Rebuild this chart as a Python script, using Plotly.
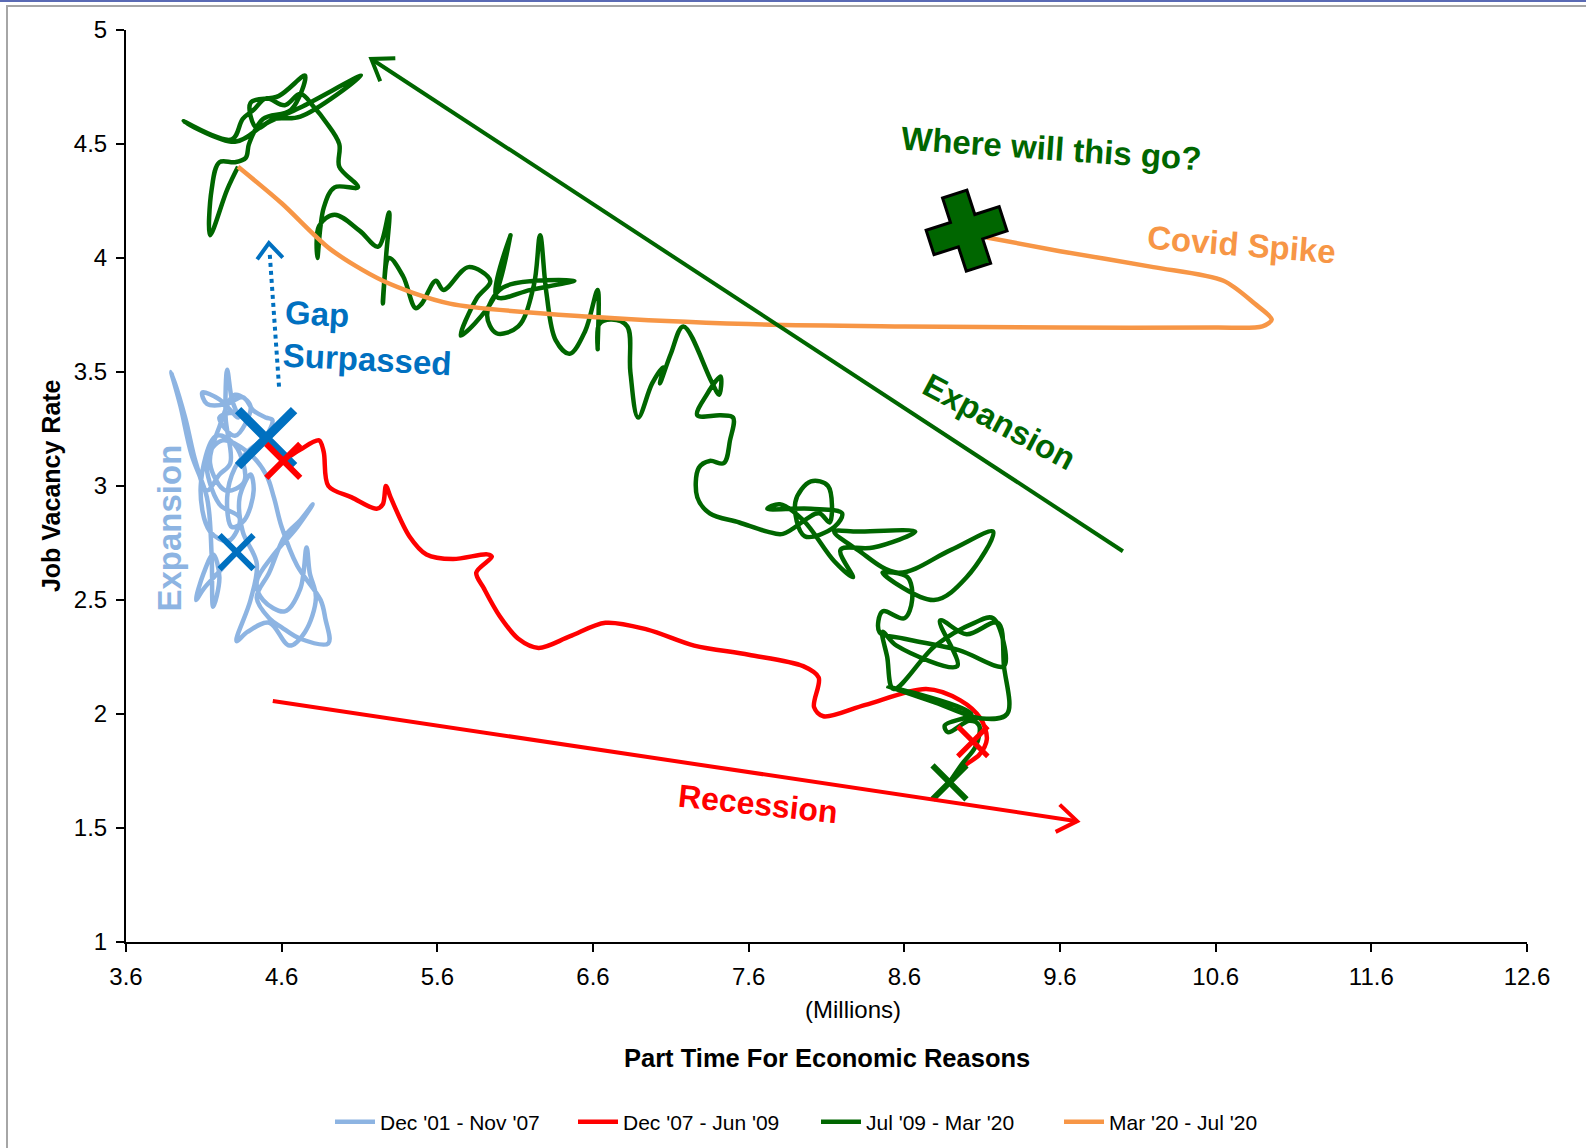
import math
import plotly.graph_objects as go

# ---------------- data ----------------
SERIES_NAMES = ["Dec '01 - Nov '07", "Dec '07 - Jun '09", "Jul '09 - Mar '20", "Mar '20 - Jul '20"]

BLUE_X = [4.31, 4.22, 4.10, 4.05, 4.10, 4.16, 4.20, 4.16, 4.15, 4.12, 4.02, 3.95, 3.89, 3.98, 4.05, 4.12,
          4.20, 4.27, 4.24, 4.25, 4.28, 4.32, 4.20, 4.09, 4.12, 4.25, 4.35, 4.42, 4.50, 4.54, 4.50, 4.38,
          4.30, 4.25, 4.28, 4.36, 4.42, 4.40, 4.33, 4.35, 4.44, 4.40, 4.31, 4.38, 4.52, 4.65, 4.75, 4.82,
          4.78, 4.76, 4.72, 4.62, 4.48, 4.44, 4.55, 4.70, 4.80, 4.72, 4.62, 4.52, 4.44, 4.52, 4.60, 4.72,
          4.90, 4.88, 4.85, 4.70, 4.60, 4.55, 4.50, 4.38, 4.22, 4.12, 4.20, 4.33, 4.26, 4.14, 4.08, 4.18,
          4.30, 4.36, 4.24, 4.14, 4.20, 4.30, 4.40, 4.30, 4.20, 4.30, 4.42, 4.50]
BLUE_Y = [2.71, 2.64, 2.55, 2.50, 2.62, 2.70, 2.60, 2.47, 2.70, 2.95, 3.14, 3.35, 3.50, 3.30, 3.10, 2.98,
          3.05, 3.10, 3.30, 3.51, 3.38, 3.30, 3.38, 3.41, 3.36, 3.36, 3.39, 3.33, 3.30, 3.29, 3.22, 3.15,
          3.08, 2.95, 2.82, 2.85, 2.98, 3.05, 2.95, 2.80, 2.66, 2.50, 2.32, 2.36, 2.40, 2.30, 2.36, 2.51,
          2.62, 2.73, 2.55, 2.45, 2.50, 2.58, 2.70, 2.82, 2.92, 2.85, 2.78, 2.62, 2.51, 2.42, 2.38, 2.33,
          2.31, 2.42, 2.50, 2.65, 2.82, 2.95, 3.05, 3.15, 3.20, 3.12, 2.92, 2.86, 2.76, 2.80, 3.00, 3.22,
          3.18, 3.02, 2.98, 3.10, 3.26, 3.40, 3.35, 3.22, 3.30, 3.32, 3.26, 3.21]

RED_X = [4.61, 4.72, 4.84, 4.87, 4.90, 5.05, 5.21, 5.25, 5.27, 5.30, 5.42, 5.53, 5.70, 5.92, 5.95, 5.85,
         5.90, 6.00, 6.12, 6.25, 6.45, 6.68, 6.95, 7.25, 7.60, 7.95, 8.05, 8.02, 8.08, 8.35, 8.74, 8.96,
         9.09, 9.13, 9.08, 9.00, 8.92]
RED_Y = [3.11, 3.16, 3.20, 3.15, 3.00, 2.95, 2.90, 2.92, 3.00, 2.95, 2.78, 2.70, 2.68, 2.70, 2.69, 2.62,
         2.55, 2.43, 2.33, 2.29, 2.34, 2.40, 2.37, 2.30, 2.26, 2.21, 2.16, 2.03, 1.99, 2.04, 2.11, 2.06,
         1.98, 1.89, 1.82, 1.78, 1.72]

GREEN_X = [8.89, 8.97, 9.06, 9.08, 9.02, 8.88, 8.86, 9.03, 8.50, 8.80, 9.10, 9.26, 9.24, 9.20, 9.00, 8.83,
           8.94, 8.55, 8.46, 8.49, 8.53, 8.80, 9.05, 9.17, 9.24, 8.95, 8.60, 8.44, 8.46, 8.60, 8.65, 8.62,
           8.46, 8.79, 9.00, 9.17, 8.90, 8.56, 8.30, 8.15, 8.30, 8.67, 8.40, 8.19, 8.27, 8.15, 7.95, 7.80,
           7.72, 8.00, 8.20, 8.15, 7.96, 7.90, 8.00, 8.11, 8.12, 8.05, 7.82, 7.72, 7.54, 7.35, 7.27, 7.28,
           7.35, 7.44, 7.48, 7.50, 7.42, 7.27, 7.33, 7.42, 7.41, 7.36, 7.18, 7.10, 7.03, 7.05, 6.98, 6.89,
           6.84, 6.82, 6.72, 6.64, 6.63, 6.63, 6.55, 6.45, 6.36, 6.30, 6.26, 6.22, 6.12, 5.98, 5.92, 6.02,
           6.48, 6.20, 5.98, 6.07, 5.96, 5.75, 5.85, 5.94, 5.80, 5.64, 5.59, 5.50, 5.46, 5.38, 5.29, 5.25,
           5.27, 5.29, 5.22, 5.10, 4.94, 4.84, 4.83, 4.87, 4.94, 5.09, 4.97, 4.97, 4.88, 4.81, 4.72, 4.62,
           4.50, 4.42, 4.35, 4.28, 3.97, 4.30, 4.50, 4.72, 5.11, 4.72, 4.55, 4.44, 4.40, 4.58, 4.75, 4.66,
           4.48, 4.39, 4.37, 4.30, 4.20, 4.15, 4.14, 4.25, 4.32]
GREEN_Y = [1.70, 1.78, 1.86, 1.95, 1.97, 1.92, 1.95, 2.00, 2.12, 2.05, 1.98, 2.00, 2.21, 2.40, 2.35, 2.41,
           2.21, 2.30, 2.36, 2.25, 2.11, 2.30, 2.40, 2.42, 2.21, 2.28, 2.33, 2.36, 2.45, 2.42, 2.50, 2.60,
           2.62, 2.50, 2.60, 2.80, 2.72, 2.62, 2.72, 2.80, 2.80, 2.80, 2.73, 2.72, 2.60, 2.67, 2.85, 2.92,
           2.90, 2.90, 2.88, 2.82, 2.78, 2.93, 3.02, 3.00, 2.84, 2.88, 2.79, 2.80, 2.84, 2.88, 2.95, 3.08,
           3.11, 3.10, 3.20, 3.30, 3.31, 3.31, 3.40, 3.48, 3.40, 3.46, 3.70, 3.58, 3.45, 3.52, 3.45, 3.30,
           3.50, 3.70, 3.73, 3.71, 3.60, 3.86, 3.68, 3.58, 3.64, 3.85, 4.10, 3.88, 3.70, 3.67, 3.75, 3.87,
           3.90, 3.86, 3.83, 4.10, 3.82, 3.66, 3.82, 3.90, 3.96, 3.86, 3.90, 3.80, 3.78, 3.92, 4.00, 3.80,
           4.00, 4.20, 4.05, 4.12, 4.19, 4.14, 4.00, 4.22, 4.31, 4.31, 4.40, 4.50, 4.60, 4.66, 4.72, 4.67,
           4.70, 4.65, 4.61, 4.52, 4.60, 4.51, 4.59, 4.66, 4.80, 4.62, 4.61, 4.57, 4.68, 4.71, 4.80, 4.65,
           4.61, 4.50, 4.44, 4.42, 4.42, 4.30, 4.10, 4.30, 4.40]

ORANGE_X = [4.32, 4.60, 4.91, 5.25, 5.68, 6.64, 7.60, 8.60, 9.60, 10.60, 10.90, 10.96, 10.85, 10.65, 10.20, 9.60, 9.13]
ORANGE_Y = [4.40, 4.24, 4.04, 3.90, 3.80, 3.74, 3.71, 3.70, 3.695, 3.695, 3.70, 3.73, 3.80, 3.90, 3.96, 4.03, 4.09]

# period markers
START_BLUE = (4.31, 2.71)
END_BLUE = (4.50, 3.21)
START_RED = (4.61, 3.11)
END_RED = (9.04, 1.88)
START_GREEN = (8.89, 1.70)
END_ORANGE = (9.00, 4.12)

X_TICKS = [3.6, 4.6, 5.6, 6.6, 7.6, 8.6, 9.6, 10.6, 11.6, 12.6]
Y_TICKS = [1, 1.5, 2, 2.5, 3, 3.5, 4, 4.5, 5]

# ---------------- layout constants ----------------
W, H = 1586, 1148
ML, MR, MT, MB = 126, 59, 30, 206
PW, PH = W - ML - MR, H - MT - MB
X0, X1, Y0, Y1 = 3.6, 12.6, 1.0, 5.0
SX, SY = PW / (X1 - X0), PH / (Y1 - Y0)

C_LBLUE = "#8DB4E2"
C_BLUE = "#0070C0"
C_RED = "#FF0000"
C_GREEN = "#006600"
C_ORANGE = "#F79646"
FONT = "Arial, Liberation Sans, sans-serif"


def pxx(xp):
    return (xp - ML) / PW


def pxy(yp):
    return (H - MB - yp) / PH


def chevron(xh, yh, xt, yt, L=24, ang=35):
    dx, dy = (xt - xh) * SX, (yt - yh) * SY
    n = math.hypot(dx, dy)
    ux, uy = dx / n, dy / n
    pts = []
    for a in (ang, -ang):
        r = math.radians(a)
        vx = ux * math.cos(r) - uy * math.sin(r)
        vy = ux * math.sin(r) + uy * math.cos(r)
        pts.append((xh + vx * L / SX, yh + vy * L / SY))
    return f"M {pts[0][0]},{pts[0][1]} L {xh},{yh} L {pts[1][0]},{pts[1][1]}"


fig = go.Figure()

for xs, ys, col, name, sm in [(BLUE_X, BLUE_Y, C_LBLUE, SERIES_NAMES[0], 1.0),
                               (RED_X, RED_Y, C_RED, SERIES_NAMES[1], 0.9),
                               (GREEN_X, GREEN_Y, C_GREEN, SERIES_NAMES[2], 1.0),
                               (ORANGE_X, ORANGE_Y, C_ORANGE, SERIES_NAMES[3], 0.8)]:
    fig.add_trace(go.Scatter(x=xs, y=ys, mode="lines", name=name,
                             line=dict(color=col, width=4.5, shape="spline", smoothing=sm),
                             hoverinfo="skip"))

for pt, col, size, lw in [(START_BLUE, C_BLUE, 34, 6), (END_BLUE, C_BLUE, 56, 9),
                          (START_RED, C_RED, 34, 6), (END_RED, C_RED, 30, 5),
                          (START_GREEN, C_GREEN, 34, 6)]:
    fig.add_trace(go.Scatter(x=[pt[0]], y=[pt[1]], mode="markers", showlegend=False, hoverinfo="skip",
                             marker=dict(symbol="x-thin", size=size, color=col,
                                         line=dict(color=col, width=lw))))

fig.add_trace(go.Scatter(x=[END_ORANGE[0]], y=[END_ORANGE[1]], mode="markers", showlegend=False,
                         hoverinfo="skip",
                         marker=dict(symbol="cross", size=64, color=C_GREEN, angle=-18,
                                     line=dict(color="black", width=3))))

shapes = []
# green expansion arrow
g_tail, g_head = (10.004, 2.714), (5.176, 4.873)
shapes.append(dict(type="line", xref="x", yref="y", x0=g_tail[0], y0=g_tail[1], x1=g_head[0], y1=g_head[1],
                   line=dict(color=C_GREEN, width=4)))
shapes.append(dict(type="path", xref="x", yref="y", path=chevron(*g_head, *g_tail, L=24),
                   line=dict(color=C_GREEN, width=4)))
# red recession arrow
r_tail, r_head = (4.543, 2.057), (9.71, 1.53)
shapes.append(dict(type="line", xref="x", yref="y", x0=r_tail[0], y0=r_tail[1], x1=r_head[0], y1=r_head[1],
                   line=dict(color=C_RED, width=4)))
shapes.append(dict(type="path", xref="x", yref="y", path=chevron(*r_head, *r_tail, L=24),
                   line=dict(color=C_RED, width=4)))
# blue dotted arrow
b_tail, b_top, b_head = (4.583, 3.436), (4.523, 4.022), (4.518, 4.065)
shapes.append(dict(type="line", xref="x", yref="y", x0=b_tail[0], y0=b_tail[1], x1=b_top[0], y1=b_top[1],
                   line=dict(color=C_BLUE, width=4, dash="dot")))
shapes.append(dict(type="path", xref="x", yref="y", path=chevron(*b_head, *b_tail, L=20, ang=40),
                   line=dict(color=C_BLUE, width=4)))
# outer frame (left and top edges visible)
shapes.append(dict(type="rect", xref="paper", yref="paper", x0=pxx(7), x1=pxx(1600), y0=pxy(1160), y1=pxy(6),
                   line=dict(color="#A6A6A6", width=2), layer="below"))
shapes.append(dict(type="line", xref="paper", yref="paper", x0=pxx(0), x1=pxx(W), y0=pxy(1), y1=pxy(1),
                   line=dict(color="#5A6AB4", width=2)))

annotations = []


def txt(text, x, y, color, size, angle=0, bold=True, ref="x", align="center"):
    annotations.append(dict(text=text, x=x, y=y, xref=ref, yref=("y" if ref == "x" else "paper"),
                            showarrow=False, textangle=angle, align=align,
                            xanchor="center", yanchor="middle",
                            font=dict(family=FONT, size=size, color=color,
                                      weight="bold" if bold else "normal")))


txt("Gap<br>Surpassed", 5.16, 3.651, C_BLUE, 33, angle=3, align="left")
txt("Recession", 7.663, 1.605, C_RED, 32, angle=6)
txt("Expansion", 9.21, 3.283, C_GREEN, 33, angle=28)
txt("Expansion", 3.88, 2.816, C_LBLUE, 33, angle=-90)
txt("Where will this go?", 9.548, 4.48, C_GREEN, 33, angle=4)
txt("Covid Spike", 10.763, 4.059, C_ORANGE, 33, angle=4.5)
txt("Job Vacancy Rate", pxx(50.6), pxy(485.5), "black", 25, angle=-90, ref="paper")
txt("(Millions)", pxx(852.7), pxy(1010), "black", 24, bold=False, ref="paper")
txt("Part Time For Economic Reasons", pxx(827.4), pxy(1058), "black", 25.5, ref="paper")

fig.update_layout(
    width=W, height=H,
    margin=dict(l=ML, r=MR, t=MT, b=MB, autoexpand=False),
    paper_bgcolor="white", plot_bgcolor="white",
    font=dict(family=FONT, color="black"),
    shapes=shapes, annotations=annotations,
    showlegend=True,
    legend=dict(orientation="h", x=pxx(330), y=pxy(1122), xanchor="left", yanchor="middle",
                font=dict(family=FONT, size=21, color="black"),
                entrywidth=188, entrywidthmode="pixels", itemwidth=40, bgcolor="rgba(0,0,0,0)"),
    xaxis=dict(range=[X0, X1], tickvals=X_TICKS, ticktext=[f"{v:.1f}" for v in X_TICKS],
               showgrid=False, zeroline=False, showline=True, linecolor="black", linewidth=2,
               ticks="outside", ticklen=8, tickwidth=2, tickcolor="black", automargin=False,
               tickfont=dict(family=FONT, size=24, color="black"), ticklabelstandoff=4),
    yaxis=dict(range=[Y0, Y1], tickvals=Y_TICKS, ticktext=[f"{v:g}" for v in Y_TICKS],
               showgrid=False, zeroline=False, showline=True, linecolor="black", linewidth=2,
               ticks="outside", ticklen=8, tickwidth=2, tickcolor="black", automargin=False,
               tickfont=dict(family=FONT, size=24, color="black"), ticklabelstandoff=4),
)

fig.write_html("out.html", config={"displayModeBar": False},
               post_script="document.body.style.margin='0px';document.body.style.padding='0px';")
